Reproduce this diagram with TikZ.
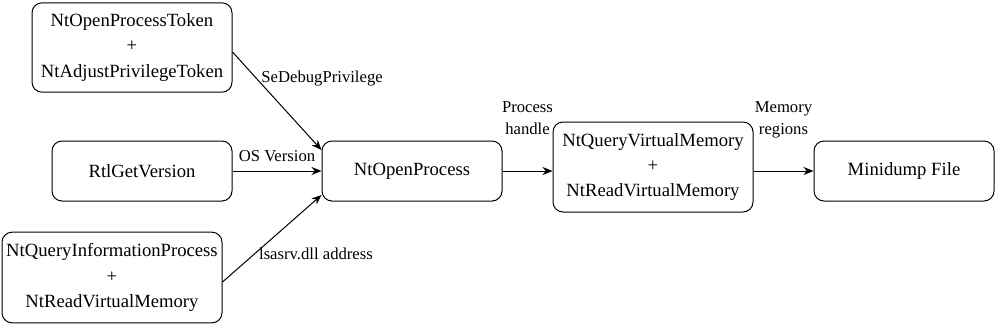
\documentclass[tikz,border=0pt]{standalone}
\usepackage{fontspec}
\setmainfont{Liberation Serif}
\usetikzlibrary{arrows.meta, positioning}

\begin{document}
\begin{tikzpicture}[
    x = 0.75pt, y = -0.75pt,
    >={Stealth[length=7.5pt, width=6pt]},
    fn/.style={
      draw,
      line width = 0.75pt,
      rounded corners = 7.5pt,
      minimum width = 135pt,
      minimum height = 45pt,
      inner sep = 0pt,
      align = center,
      font = \fontsize{14}{19}\selectfont,
    },
    lbl/.style={
      font = \fontsize{12.5}{16.5}\selectfont,
      align = center,
    },
    flow/.style={->, line width = 0.75pt},
  ]
  \useasboundingbox (0,0) rectangle (995,326);
  % left column
  \node[fn, minimum width = 150pt, minimum height = 67pt] (tok) at (132,47.5)
    {NtOpenProcessToken\\+\\NtAdjustPrivilegeToken};
  \node[fn] (ver) at (142,171) {RtlGetVersion};
  \node[fn, minimum width = 165pt, minimum height = 68pt] (peb) at (112,277.5)
    {NtQueryInformationProcess\\+\\NtReadVirtualMemory};
  % main chain
  \node[fn] (open) at (412,171) {NtOpenProcess};
  \node[fn, minimum width = 150pt, minimum height = 67.5pt,
    right = 37.5pt of open, yshift = 3pt] (vm)
    {NtQueryVirtualMemory\\+\\NtReadVirtualMemory};
  \node[fn, right = 45pt of vm, yshift = -3pt] (dump) {Minidump File};
  \draw[flow] ([yshift=-3.4pt]tok.east) -- node[lbl, pos = 0.27, right] {SeDebugPrivilege}
    ([yshift=15.75pt]open.west);
  \draw[flow] (ver) -- node[lbl, midway, above, yshift = 3pt] {OS Version} (open);
  \draw[flow] ([yshift=-3.4pt]peb.east) -- node[lbl, pos = 0.32, right] {lsasrv.dll address}
    ([yshift=-18pt]open.west);
  \draw[flow] (open) -- node[lbl, midway, above = 27pt, inner sep = 0pt, text depth = 0pt]
    {Process\\handle} (vm.west |- open.east);
  \draw[flow] (vm.east |- dump.west) -- node[lbl, midway, above = 27pt, inner sep = 0pt,
    text depth = 0pt] {Memory\\regions} (dump);
\end{tikzpicture}
\end{document}
